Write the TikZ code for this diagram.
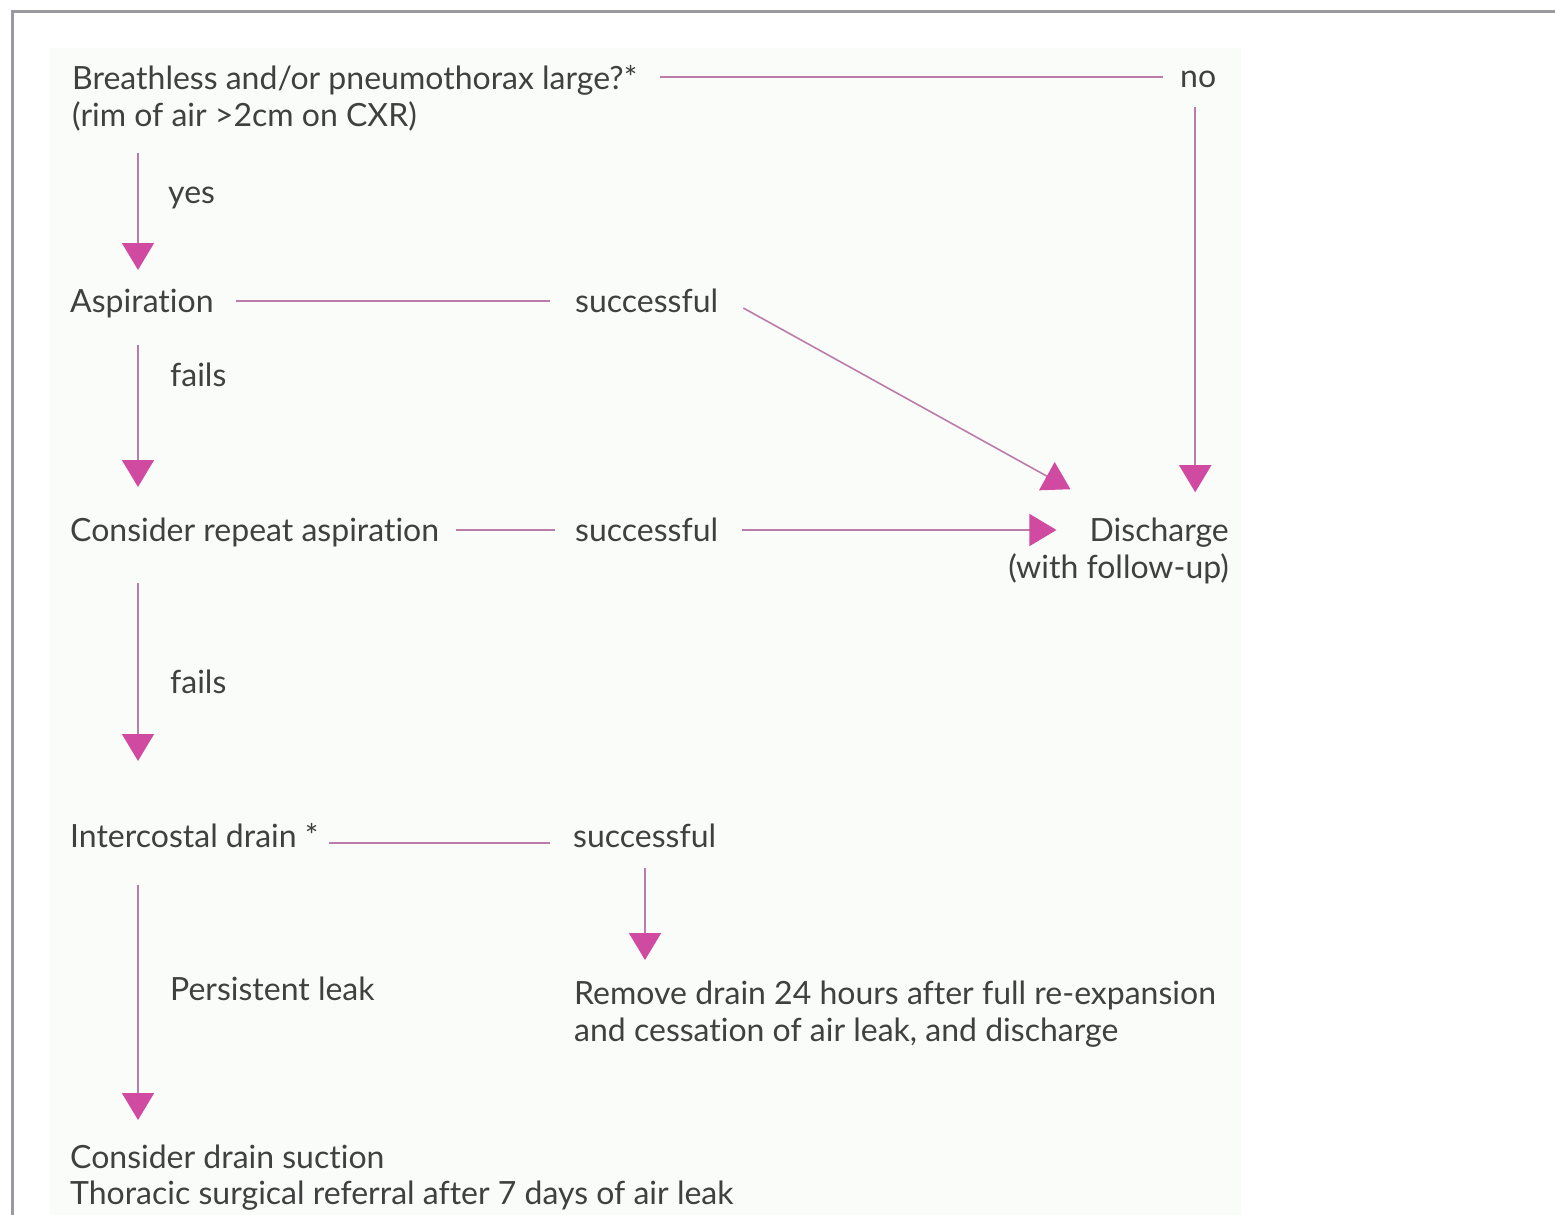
\documentclass[tikz,border=0pt]{standalone}
\usepackage{fontspec}
\setmainfont{Lato}[Ligatures=NoCommon]
\usetikzlibrary{arrows.meta,calc}
\definecolor{lin}{HTML}{BC7CAA}
\definecolor{mag}{HTML}{D04AA2}
\definecolor{txt}{HTML}{404040}
\definecolor{panel}{HTML}{FAFCFA}
\definecolor{frame}{HTML}{9A9A9F}
\begin{document}
\begin{tikzpicture}[x=1pt,y=-1pt,
  lbl/.style={anchor=base west,inner sep=0pt,font=\fontsize{32}{37}\selectfont,text=txt},
  conn/.style={draw=lin,line width=1.6pt},
  arr/.style={conn,-{Triangle[width=32pt,length=27pt,color=mag]}}]
\useasboundingbox (0,0) rectangle (1555,1215);
\fill[white] (0,0) rectangle (1555,1215);
\fill[panel] (50,48) rectangle (1241,1215);
\draw[frame,line width=3pt] (12,1215) -- (12,12) -- (1555,12);

\node[lbl] (q1) at (72,89) {Breathless and/or pneumothorax large?*};
\node[lbl] (q1b) at (72,126) {(rim of air >2cm on CXR)};
\node[lbl] (no) at (1180,88) {no};
\node[lbl] (yes) at (168,203) {yes};
\node[lbl] (asp) at (70,312) {Aspiration};
\node[lbl] (s1) at (575,312) {successful};
\node[lbl] (f1) at (170,386) {fails};
\node[lbl] (rep) at (70,541) {Consider repeat aspiration};
\node[lbl] (s2) at (575,541) {successful};
\node[lbl,anchor=base east] (dis) at (1229,541) {Discharge};
\node[lbl,anchor=base east] (dis2) at (1229,578) {(with follow-up)};
\node[lbl] (f2) at (170,693) {fails};
\node[lbl] (icd) at (70,847) {Intercostal drain *};
\node[lbl] (s3) at (573,847) {successful};
\node[lbl] (pl) at (170,1000) {Persistent leak};
\node[lbl] (rem) at (574,1004) {Remove drain 24 hours after full re-expansion};
\node[lbl] (rem2) at (574,1041) {and cessation of air leak, and discharge};
\node[lbl] (cds) at (70,1168) {Consider drain suction};
\node[lbl] (tsr) at (70,1204) {Thoracic surgical referral after 7 days of air leak};

% horizontal connectors
\draw[conn] ($(q1.base east)+(23,-12)$) -- ($(no.base west)+(-17,-11)$);
\draw[conn] ($(asp.base east)+(22,-11)$) -- ($(s1.base west)+(-25,-11)$);
\draw[conn] ($(rep.base east)+(17,-11)$) -- ($(s2.base west)+(-20,-11)$);
\draw[conn] ($(icd.base east)+(10,-4)$) -- ($(s3.base west)+(-23,-4)$);

% arrows to discharge
\coordinate (noX) at ($(no.base)+(-3,0)$);
\coordinate (disT) at ($(dis.north)+(0,-25)$);
\draw[arr] ($(no.base)+(-3,19)$) -- (noX |- disT);
\draw[arr] ($(s1.base east)+(25,-4)$) -- ($(dis.north west)+(-19,-28)$);
\draw[arr] ($(s2.base east)+(24,-11)$) -- ($(dis.base west)+(-33,-11)$);

% vertical arrows
\draw[arr] ($(q1b.base west)+(66,27)$) -- ($(asp.base west)+(68,-42)$);
\draw[arr] ($(asp.base west)+(68,33)$) -- ($(rep.base west)+(68,-54)$);
\draw[arr] ($(rep.base west)+(68,42)$) -- ($(icd.base west)+(68,-86)$);
\draw[arr] ($(icd.base west)+(68,38)$) -- ($(cds.base west)+(68,-48)$);
\draw[arr] ($(s3.base west)+(72,21)$) -- ($(rem.base west)+(71,-44)$);
\end{tikzpicture}
\end{document}
